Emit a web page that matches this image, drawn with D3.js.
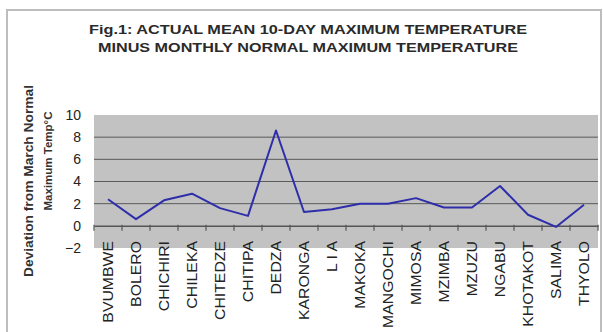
<!DOCTYPE html>
<html><head><meta charset="utf-8">
<script src="https://cdn.jsdelivr.net/npm/d3@7"></script>
<style>body{margin:0;background:#fff;}svg{display:block;font-family:Arial,"Liberation Sans",sans-serif;}</style>
</head><body>
<script>
const categories = ["BVUMBWE","BOLERO","CHICHIRI","CHILEKA","CHITEDZE","CHITIPA","DEDZA","KARONGA","L I A","MAKOKA","MANGOCHI","MIMOSA","MZIMBA","MZUZU","NGABU","KHOTAKOT","SALIMA","THYOLO"];
const deviation = [2.4,0.6,2.3,2.9,1.6,0.9,8.6,1.25,1.5,2.0,2.0,2.5,1.65,1.65,3.6,1.0,-0.1,1.9];
const yTicks = [-2,0,2,4,6,8,10];
const titleLines = ["Fig.1: ACTUAL MEAN 10-DAY MAXIMUM TEMPERATURE","MINUS MONTHLY NORMAL MAXIMUM TEMPERATURE"];
const yLabelLines = ["Deviation from March Normal","Maximum Temp°C"];

const W=603,H=332;
const svg=d3.select("body").append("svg").attr("width",W).attr("height",H);
// outer frame
svg.append("path").attr("d","M7,340 V10 H601 V340").attr("fill","none").attr("stroke","#bdbdbd").attr("stroke-width",2);

const m={left:94,right:598,top:115,bottom:248};
const x=d3.scaleBand().domain(categories).range([m.left,m.right]);
const y=d3.scaleLinear().domain([-2,10]).range([m.bottom,m.top]);

svg.append("rect").attr("x",m.left).attr("y",m.top).attr("width",m.right-m.left).attr("height",m.bottom-m.top).attr("fill","#c2c2c2");
// gridlines
svg.append("g").selectAll("line").data(yTicks.filter(t=>t>0&&t<10)).join("line")
  .attr("x1",m.left).attr("x2",m.right).attr("y1",d=>y(d)).attr("y2",d=>y(d))
  .attr("stroke","#5a5a5a").attr("stroke-width",1);

// y axis
const ya=svg.append("g").attr("transform",`translate(${m.left},0)`)
  .call(d3.axisLeft(y).tickValues(yTicks).tickSize(0).tickPadding(13));
ya.select(".domain").remove();
ya.selectAll("text").attr("font-size",14).attr("fill","#222").attr("font-family","Arial,'Liberation Sans',sans-serif");

// x axis at zero
const xa=svg.append("g").attr("transform",`translate(0,${y(0)})`)
  .call(d3.axisBottom(x).tickSize(0).tickFormat(""));
xa.select(".domain").attr("stroke","#555").attr("stroke-width",1.5);
const bounds=categories.map(c=>x(c)).concat([m.right]);
xa.selectAll(".bt").data(bounds).join("line").attr("class","bt")
  .attr("x1",d=>d).attr("x2",d=>d).attr("y1",-1).attr("y2",5).attr("stroke","#555").attr("stroke-width",1.2);
// category labels
svg.append("g").selectAll("text").data(categories).join("text")
  .attr("transform",d=>`translate(${x(d)+x.bandwidth()/2+5},241) rotate(-90) scale(1.13,1)`)
  .attr("text-anchor","end").attr("font-size",14).attr("fill","#222").text(d=>d);

// line
const line=d3.line().x((d,i)=>x(categories[i])+x.bandwidth()/2).y(d=>y(d));
svg.append("path").datum(deviation).attr("d",line).attr("fill","none").attr("stroke","#2e2eaa").attr("stroke-width",2).attr("stroke-linejoin","round");

// title
svg.append("g").selectAll("text").data(titleLines).join("text")
  .attr("x",308).attr("y",(d,i)=>34+i*18).attr("text-anchor","middle")
  .attr("font-size",13).attr("font-weight","bold").attr("fill","#2a2a2a")
  .attr("textLength",(d,i)=>i===0?438:420).attr("lengthAdjust","spacingAndGlyphs").text(d=>d);

// y label
svg.append("text").attr("transform","translate(33,181) rotate(-90)").attr("text-anchor","middle")
  .attr("font-size",12).attr("font-weight","bold").attr("fill","#333")
  .attr("textLength",192).attr("lengthAdjust","spacingAndGlyphs").text(yLabelLines[0]);
svg.append("text").attr("transform","translate(52,161) rotate(-90)").attr("text-anchor","middle")
  .attr("font-size",11.5).attr("font-weight","bold").attr("fill","#333")
  .text(yLabelLines[1]);
</script>
</body></html>
